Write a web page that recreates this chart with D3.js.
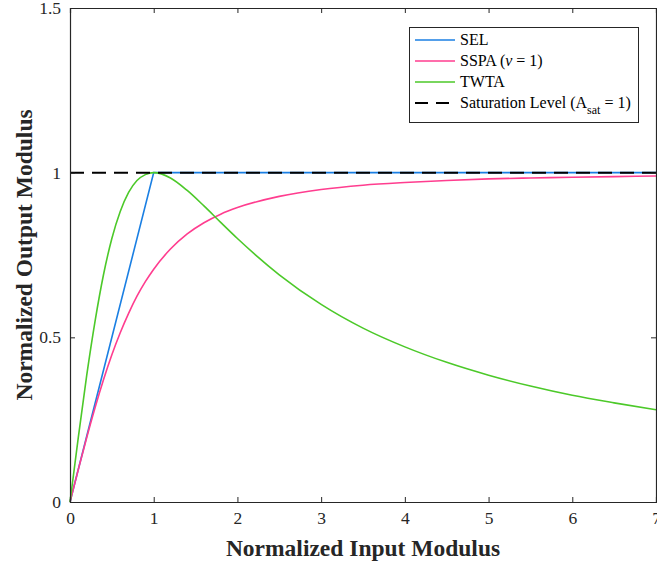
<!DOCTYPE html>
<html>
<head>
<meta charset="utf-8">
<script src="https://cdn.jsdelivr.net/npm/d3@7"></script>
<style>
  body { margin: 0; background: #fff; }
  text { font-family: "Liberation Serif", "Times New Roman", serif; }
</style>
</head>
<body>
<svg id="chart" width="657" height="566"></svg>
<script>
// valores
var inputMod = [0, 0.1, 0.2, 0.3, 0.4, 0.5, 0.6, 0.7, 0.8, 0.9, 1.0, 1.2, 1.4, 1.6, 1.8, 2.0, 2.5, 3.0, 3.5, 4.0, 4.5, 5.0, 5.5, 6.0, 6.5, 7.0];
var sspaOut = [0, 0.0995, 0.196, 0.287, 0.371, 0.447, 0.514, 0.573, 0.625, 0.669, 0.707, 0.768, 0.814, 0.848, 0.874, 0.894, 0.928, 0.949, 0.962, 0.970, 0.976, 0.981, 0.984, 0.986, 0.988, 0.990];
var twtaOut = [0, 0.198, 0.385, 0.550, 0.690, 0.800, 0.882, 0.940, 0.976, 0.994, 1.0, 0.984, 0.946, 0.899, 0.849, 0.800, 0.690, 0.600, 0.528, 0.471, 0.424, 0.385, 0.352, 0.324, 0.301, 0.280];
var selIn = [0, 1, 7];
var selOut = [0, 1, 1];
var satIn = [0, 7];
var satOut = [1, 1];
var xTicks = [0, 1, 2, 3, 4, 5, 6, 7];
var yTicks = [0, 0.5, 1, 1.5];

var svg = d3.select("#chart");
var plotLeft = 70, plotRight = 656, plotTop = 8, plotBottom = 502;

var x = d3.scaleLinear().domain([0, 7]).range([plotLeft, plotRight]);
var y = d3.scaleLinear().domain([0, 1.5]).range([plotBottom, plotTop]);

var axisColor = "#262626";

// lineas
var line = d3.line()
    .x(d => x(d[0]))
    .y(d => y(d[1]))
    .curve(d3.curveMonotoneX);
var straight = d3.line()
    .x(d => x(d[0]))
    .y(d => y(d[1]));

var colors = { sel: "#1a7fe3", sspa: "#ff3d8f", twta: "#4cc929", sat: "#000000" };

svg.append("path")
    .datum(d3.zip(selIn, selOut))
    .attr("d", straight)
    .attr("fill", "none").attr("stroke", colors.sel).attr("stroke-width", 1.6);

svg.append("path")
    .datum(d3.zip(inputMod, sspaOut))
    .attr("d", line)
    .attr("fill", "none").attr("stroke", colors.sspa).attr("stroke-width", 1.6);

svg.append("path")
    .datum(d3.zip(inputMod, twtaOut))
    .attr("d", line)
    .attr("fill", "none").attr("stroke", colors.twta).attr("stroke-width", 1.6);

svg.append("path")
    .datum(d3.zip(satIn, satOut))
    .attr("d", straight)
    .attr("fill", "none").attr("stroke", colors.sat).attr("stroke-width", 2)
    .attr("stroke-dasharray", "14,8");

// ejes con ticks hacia dentro
var gx = svg.append("g").attr("transform", "translate(0," + plotBottom + ")")
    .call(d3.axisBottom(x).tickValues(xTicks).tickSize(-5).tickPadding(10).tickFormat(d3.format("d")));
var gxTop = svg.append("g").attr("transform", "translate(0," + plotTop + ")")
    .call(d3.axisTop(x).tickValues(xTicks).tickSize(-5).tickFormat(""));
var gy = svg.append("g").attr("transform", "translate(" + plotLeft + ",0)")
    .call(d3.axisLeft(y).tickValues(yTicks).tickSize(-5).tickPadding(9).tickFormat(d3.format("")));
var gyRight = svg.append("g").attr("transform", "translate(" + plotRight + ",0)")
    .call(d3.axisRight(y).tickValues(yTicks).tickSize(-5).tickFormat(""));

[gx, gxTop, gy, gyRight].forEach(function(g) {
    g.select(".domain").attr("stroke", axisColor).attr("stroke-width", 1.2);
    g.selectAll(".tick line").attr("stroke", axisColor).attr("stroke-width", 1);
    g.selectAll(".tick text").attr("fill", axisColor).attr("font-size", 17.5)
        .attr("font-family", "Liberation Serif, serif");
});

// titulos de los ejes
svg.append("text")
    .attr("x", (plotLeft + plotRight) / 2).attr("y", 556)
    .attr("text-anchor", "middle")
    .attr("font-size", 23.5).attr("font-weight", "bold").attr("fill", axisColor)
    .text("Normalized Input Modulus");

svg.append("text")
    .attr("transform", "translate(32," + (plotTop + plotBottom) / 2 + ") rotate(-90)")
    .attr("text-anchor", "middle")
    .attr("font-size", 23.5).attr("font-weight", "bold").attr("fill", axisColor)
    .text("Normalized Output Modulus");

// leyenda
var legend = svg.append("g");
legend.append("rect")
    .attr("x", 409.5).attr("y", 27.5).attr("width", 229).attr("height", 95)
    .attr("fill", "#fff").attr("stroke", axisColor).attr("stroke-width", 1);

var items = [
    { key: "sel", label: "SEL" },
    { key: "sspa", label: "SSPA" },
    { key: "twta", label: "TWTA" },
    { key: "sat", label: "Saturation Level" }
];

items.forEach(function(it, i) {
    var ly = 40 + i * 21;
    legend.append("line")
        .attr("x1", 415).attr("x2", 455).attr("y1", ly).attr("y2", ly)
        .attr("stroke", colors[it.key]).attr("stroke-width", it.key === "sat" ? 2 : 1.6)
        .attr("stroke-dasharray", it.key === "sat" ? "13,8" : null);
    var t = legend.append("text")
        .attr("x", 460).attr("y", ly + 5)
        .attr("font-size", 16).attr("fill", "#000")
        .text(it.label);
    if (it.key === "sspa") {
        t.append("tspan").text(" (");
        t.append("tspan").attr("font-style", "italic").text("\u03BD");
        t.append("tspan").text(" = 1)");
    }
    if (it.key === "sat") {
        t.append("tspan").text(" (A");
        t.append("tspan").attr("font-size", 12).attr("dy", 6).text("sat");
        t.append("tspan").attr("dy", -6).text(" = 1)");
    }
});
</script>
</body>
</html>
